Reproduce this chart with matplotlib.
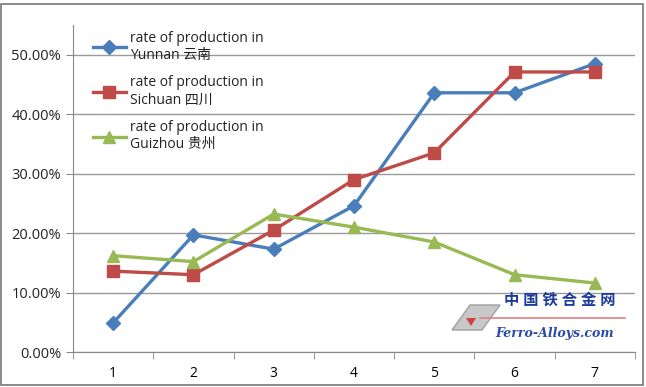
import numpy as np
import matplotlib.pyplot as plt
from matplotlib.ticker import PercentFormatter, FixedLocator
from matplotlib.patches import Rectangle, Polygon

plt.rcParams['font.family'] = ['Open Sans', 'Noto Sans CJK SC', 'DejaVu Sans']

periods = [1, 2, 3, 4, 5, 6, 7]
yunnan = [4.9, 19.7, 17.3, 24.6, 43.6, 43.6, 48.5]
sichuan = [13.6, 13.0, 20.5, 29.0, 33.5, 47.1, 47.1]
guizhou = [16.2, 15.2, 23.2, 21.0, 18.5, 13.0, 11.6]
labels = ['rate of production in\nYunnan 云南',
          'rate of production in\nSichuan 四川',
          'rate of production in\nGuizhou 贵州']

W, H = 646, 387
fig = plt.figure(figsize=(W / 100, H / 100), dpi=100)
ax = fig.add_axes([73 / W, 35 / H, 562 / W, 327 / H])

ax.plot(periods, yunnan, color='#4A7EBB', lw=2.4, marker='D', ms=7,
        label=labels[0])
ax.plot(periods, sichuan, color='#BE4B48', lw=2.4, marker='s', ms=9,
        label=labels[1])
ax.plot(periods, guizhou, color='#98B954', lw=2.4, marker='^', ms=9,
        label=labels[2])

ax.set_xlim(0.5, 7.5)
ax.set_ylim(0, 55)
ax.set_yticks(np.arange(0, 51, 10))
ax.yaxis.set_major_formatter(PercentFormatter(decimals=2))
ax.set_xticks(periods)
ax.xaxis.set_minor_locator(FixedLocator(np.arange(0.5, 8, 1)))
ax.tick_params(axis='x', which='major', length=0, pad=10, labelsize=10)
ax.tick_params(axis='x', which='minor', length=5, color='#888888')
ax.tick_params(axis='y', length=5, color='#888888', labelsize=10.5,
               labelcolor='#222222')
ax.grid(axis='y', color='#9a9a9a', lw=1)
ax.set_axisbelow(True)
for s in ['top', 'right']:
    ax.spines[s].set_visible(False)
for s in ['left', 'bottom']:
    ax.spines[s].set_color('#888888')

leg = ax.legend(loc='upper left', bbox_to_anchor=(0.025, 1.0), frameon=False,
                fontsize=10, handlelength=2.4, labelspacing=0.9,
                handletextpad=0.3, borderaxespad=0.0)
for t in leg.get_texts():
    t.set_color('#222222')


def px(x, y):
    # pixel coords from top-left -> display coords
    return (x, H - y)


# watermark
logo = Polygon([px(452, 330), px(470, 305), px(500, 305), px(482, 330)],
               closed=True, transform=None, facecolor='#c8c8c8',
               edgecolor='#a0a0a0', lw=1)
fig.add_artist(logo)
fig.add_artist(Polygon([px(466, 318), px(476, 318), px(471, 326)], closed=True,
                       transform=None, facecolor='#d04040', edgecolor='none'))
fig.text(560 / W, 1 - 300 / H, '中 国 铁 合 金 网', color='#1c3c9c',
         fontsize=11, ha='center', va='center', fontweight='bold')
fig.add_artist(plt.Line2D([480 / W, 625 / W], [1 - 318 / H, 1 - 318 / H],
                          color='#e08080', lw=1.2, transform=fig.transFigure))
fig.text(555 / W, 1 - 333 / H, 'Ferro-Alloys.com', color='#2a4aa8',
         fontsize=9, ha='center', va='center', style='italic',
         fontweight='bold', family=['DejaVu Serif'])

fig.add_artist(Rectangle((1 / W, 2 / H), 642 / W, 381 / H,
                         transform=fig.transFigure, fill=False,
                         edgecolor='#777777', lw=1.2))

fig.savefig('out.png', dpi=100)
